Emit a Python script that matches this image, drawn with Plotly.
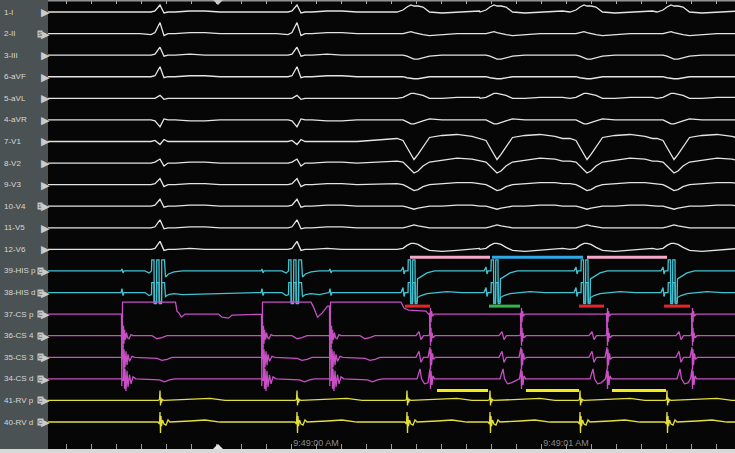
import plotly.graph_objects as go

# --- data: times are ms after 9:48:59, deflections in screen px (up = +) ---
T_START, T_END = -72, 2676

CHANNELS = ["1-I", "2-II", "3-III", "6-aVF", "5-aVL", "4-aVR", "7-V1", "8-V2", "9-V3",
            "10-V4", "11-V5", "12-V6", "39-HIS p", "38-HIS d", "37-CS p", "36-CS 4",
            "35-CS 3", "34-CS d", "41-RV p", "40-RV d"]
ICONS = {"2-II": "S", "10-V4": "1", "39-HIS p": "C", "38-HIS d": "C", "37-CS p": "C",
         "36-CS 4": "C", "35-CS 3": "C", "34-CS d": "C", "41-RV p": "C", "40-RV d": "C"}

V_NARROW = [376, 924]               # RV spikes, narrow beats
V_WIDE = [1364, 1696, 2056, 2404]   # RV spikes, wide beats
A_EARLY = [224, 784, 1056]          # CS activation, first half
A_LATE = [1456, 1820, 2164, 2504]   # CS activation, second half

TICK_MS = [0, 1000, 2000]
TICK_TEXT = ["9:48:59 AM", "9:49:00 AM", "9:49:01 AM"]
CURSOR_MS = 608

# surface ECG
NARROW_DT = [-80, -36, -20, 0, 16, 32, 60, 120, 180, 240]
I_N = [0, 0, 1, 7, -1, 0, 0, 1, 1, 0]
II_N = [0, -1, 1, 11, -2, 0, 0, 1, 1, 0]
III_N = [0, 0, 1, 8, -1, 0, 0, 1, 0, 0]
AVF_N = [0, 0, 1, 10, -1, 0, 0, 1, 1, 0]
AVL_N = [0, 0, 0, 3, -1, 0, 0, 0, 0, 0]
AVR_N = [0, 0, -1, -7, 1, 0, 0, -1, -1, 0]
V1_N = [0, 0, 1, -3, 2, 0, 0, 0, 0, 0]
V2_N = [0, 0, 1, 4, -3, 0, 0, 1, 1, 0]
V3_N = [0, 0, 1, 6, -2, 0, 0, 1, 1, 0]
V4_N = [0, 0, 1, 7, -1, 0, 0, 1, 1, 0]
V5_N = [0, 0, 1, 8, -1, 0, 0, 1, 1, 0]
V6_N = [0, 0, 1, 8, -1, 0, 0, 1, 0, 0]

WIDE_DT = [-40, -16, 0, 16, 28, 44, 64, 90, 140, 200, 260, 290]
I_W = [0, 2, 5, 7, 6, 6, 5, 0, -1, 0, 1, 1]
II_W = [0, 0, 1, 2, 1, 0, -1, -2, -1, 0, 0, 0]
III_W = [0, 0, -1, -3, -4, -4, -3, -1, 0, 0, 0, 0]
AVF_W = [0, 0, -1, -2, -2, -2, -1, 0, 0, 0, 0, 0]
AVL_W = [0, 1, 3, 5, 5, 4, 3, 0, 0, 1, 1, 1]
AVR_W = [0, 0, -2, -4, -4, -3, -1, 1, 0, 0, 0, 0]
V1_W = [3, 1, -6, -13, -18, -13, -5, 4, 6, 7, 5, 3]
V2_W = [2, 1, -3, -7, -10, -8, -3, 1, 3, 5, 4, 2]
V3_W = [1, 0, -2, -4, -6, -5, -2, 0, 1, 2, 2, 1]
V4_W = [0, 0, -1, -2, -3, -2, -1, 0, 0, 1, 1, 0]
V5_W = [0, 0, 1, 2, 3, 2, 1, 0, 0, 0, 0, 0]
V6_W = [0, 1, 4, 6, 6, 5, 2, -1, -2, -1, 0, 1]

# His bundle (clipped deflections)
HIS_N_DT = [-60, -44, -34, -33, -24, -23, -14, -13, -4, -3, 6, 7, 18, 22, 34, 56, 90]
HIS_P_N = [0, -2, 0, 11, 11, -31, -31, 11, 11, -31, -31, 11, 11, -6, -3, -1, 0]
HIS_D_N = [0, -3, -2, 10, 10, -11, -11, 10, 10, -11, -11, 10, 10, -4, -2, -1, -2]
HIS_W_DT = [-24, -16, -12, -8, 4, 5, 14, 15, 22, 23, 32, 33, 40, 42, 56, 80, 110, 160, 220]
HIS_P_W = [0, 4, -3, 0, 0, 11, 11, -31, -31, 11, 11, -31, -31, -8, -6, -2, 0, 0, 0]
HIS_D_W = [0, 5, -4, 0, 0, 10, 10, -11, -11, 10, 10, -11, -11, -5, -3, -1, 0, 1, 0]
HIS_A_DT = [-4, 0, 4, 8]
HIS_P_A = [0, 2, -2, 0]
HIS_D_A = [0, 4, -3, 0]

# coronary sinus
CS_P_T = [216, 222, 223, 226, 438, 444, 452, 462, 476, 610, 624, 650, 664, 776,
          782, 783, 786, 980, 990, 1006, 1024, 1046, 1054, 1055, 1058, 1340, 1352, 1370, 1440]
CS_P_Y = [0, 0, -72, 12, 12, 3, 1, -3, 0, 0, -3, -4, -1, 0,
          0, -72, 12, 12, 7, -3, 1, 8, 8, -72, 12, 12, 6, 4, 3]
CS_P_L_DT = [-6, -2, 0, 2, 4, 6, 10, 16]
CS_P_L = [0, 1, -22, 6, -8, 3, -2, 0]
CS_4_E_DT = [-4, 0, 2, 4, 6, 8, 10, 14, 18, 22, 28, 36, 44, 120, 140, 160, 180]
CS_4_E = [0, -2, 14, -12, 10, -8, 6, -4, 3, -2, -3, 1, 0, 0, -3, -2, 0]
CS_3_E_DT = [-2, 2, 4, 6, 8, 12, 16, 20, 24, 30, 40, 52, 140, 160, 180, 200]
CS_3_E = [0, -2, 12, -12, 8, -10, 6, -8, 3, -4, 1, 0, -1, -3, -2, 0]
CS_D_E_DT = [0, 4, 8, 10, 12, 16, 20, 24, 30, 36, 44, 56, 150, 170, 190, 210]
CS_D_E = [0, -2, 14, -10, 10, -12, 8, -8, 4, -5, 2, 0, -1, -3, -1, 0]
CS_4_L_DT = [-8, -2, 0, 2, 4, 6, 8, 12, 20]
CS_4_L = [0, 1, 12, -10, 8, -6, 3, -2, 0]
CS_3_L_DT = [-8, 0, 2, 4, 6, 10, 14, 22]
CS_3_L = [0, 10, -12, 8, -8, 4, -2, 0]
CS_D_L_DT = [-6, 0, 2, 4, 8, 12, 18]
CS_D_L = [0, 10, -10, 8, -6, 3, 0]
CS_V_DT = [36, 48, 56, 66]
CS_4_V = [0, 4, -4, 0]
CS_3_V = [0, 6, -5, 0]
CS_D_V_DT = [40, 52, 58, 70, 84]
CS_D_V = [0, 10, 0, -5, -4]

# right ventricle
RV_P_DT = [-8, -2, 0, 2, 4, 6, 10, 16, 120, 200, 260]
RV_P = [0, 1, 10, -5, 3, -2, 1, 0, 1, 2, 0]
RV_D_DT = [-8, -2, 0, 2, 4, 6, 10, 16, 24, 32, 40, 120, 180, 240]
RV_D = [0, -2, 10, -11, 6, -4, 2, -2, -3, 2, 0, 1, 2, 0]

# measurement calipers
HH_START = [1376, 1704, 2084]
HH_END = [1696, 2068, 2404]
HH_COLOR = ["#f5a8c8", "#2ea8e6", "#f5a8c8"]
VA_START = [1356, 1692, 2052, 2392]
VA_END = [1456, 1816, 2152, 2496]
VA_COLOR = ["#e4262b", "#36b44c", "#e4262b", "#e4262b"]
AV_START = [1484, 1840, 2184]
AV_END = [1688, 2052, 2400]

# --- build the traces ---
ecg_n = [I_N, II_N, III_N, AVF_N, AVL_N, AVR_N, V1_N, V2_N, V3_N, V4_N, V5_N, V6_N]
ecg_w = [I_W, II_W, III_W, AVF_W, AVL_W, AVR_W, V1_W, V2_W, V3_W, V4_W, V5_W, V6_W]
placements = {}
for name, n, w in zip(CHANNELS[:12], ecg_n, ecg_w):
    placements[name] = [(V_NARROW, NARROW_DT, n), (V_WIDE, WIDE_DT, w)]
placements["39-HIS p"] = [(V_NARROW, HIS_N_DT, HIS_P_N), (V_WIDE, HIS_W_DT, HIS_P_W),
                          (A_EARLY, HIS_A_DT, HIS_P_A)]
placements["38-HIS d"] = [(V_NARROW, HIS_N_DT, HIS_D_N), (V_WIDE, HIS_W_DT, HIS_D_W),
                          (A_EARLY, HIS_A_DT, HIS_D_A)]
placements["37-CS p"] = [([0], CS_P_T, CS_P_Y), (A_LATE, CS_P_L_DT, CS_P_L)]
placements["36-CS 4"] = [(A_EARLY, CS_4_E_DT, CS_4_E), (A_LATE, CS_4_L_DT, CS_4_L),
                         (V_WIDE, CS_V_DT, CS_4_V)]
placements["35-CS 3"] = [(A_EARLY, CS_3_E_DT, CS_3_E), (A_LATE, CS_3_L_DT, CS_3_L),
                         (V_WIDE, CS_V_DT, CS_3_V)]
placements["34-CS d"] = [(A_EARLY, CS_D_E_DT, CS_D_E), (A_LATE, CS_D_L_DT, CS_D_L),
                         (V_WIDE, CS_D_V_DT, CS_D_V)]
placements["41-RV p"] = [(V_NARROW + V_WIDE, RV_P_DT, RV_P)]
placements["40-RV d"] = [(V_NARROW + V_WIDE, RV_D_DT, RV_D)]


def build(parts):
    pts = [(T_START - 20, 0), (T_END + 400, 0)]
    for times, dts, dys in parts:
        for t0 in times:
            pts += [(t0 + dt, dy) for dt, dy in zip(dts, dys)]
    pts.sort(key=lambda p: p[0])
    return [p[0] for p in pts], [p[1] for p in pts]


def color_for(name):
    if "HIS" in name:
        return "#42c3d2"
    if "CS" in name:
        return "#c84fc4"
    if "RV" in name:
        return "#e2de3c"
    return "#e4e4e4"


W, H = 735, 453
LEFT = 48
ROW0, ROW_STEP = 12, 21.58
base = {name: ROW0 + ROW_STEP * i for i, name in enumerate(CHANNELS)}

fig = go.Figure()
for name in CHANNELS:
    xs, ys = build(placements[name])
    fig.add_trace(go.Scatter(x=xs, y=[v - base[name] for v in ys], mode="lines",
                             line=dict(color=color_for(name), width=1.3), hoverinfo="skip"))

# calipers
for s, e, c in zip(HH_START, HH_END, HH_COLOR):
    yb = -(base["39-HIS p"] - 13.7)
    fig.add_trace(go.Scatter(x=[s, e], y=[yb, yb], mode="lines", line=dict(color=c, width=3)))
for s, e, c in zip(VA_START, VA_END, VA_COLOR):
    yb = -(base["37-CS p"] - 8)
    fig.add_trace(go.Scatter(x=[s, e], y=[yb, yb], mode="lines", line=dict(color=c, width=3)))
for s, e in zip(AV_START, AV_END):
    yb = -(base["41-RV p"] - 10)
    fig.add_trace(go.Scatter(x=[s, e], y=[yb, yb], mode="lines", line=dict(color="#f2ec1e", width=3)))

# top ruler needs a trace on x2
fig.add_trace(go.Scatter(x=[T_START], y=[0], xaxis="x2", mode="markers",
                         marker=dict(opacity=0), hoverinfo="skip"))

# channel labels
for name in CHANNELS:
    yp = 1 - base[name] / H
    fig.add_annotation(x=2 / W, y=yp, xref="paper", yref="paper", text=name, showarrow=False,
                       xanchor="left", yanchor="middle", font=dict(size=8, color="#d6d8d8"))
    fig.add_annotation(x=45.5 / W, y=yp, xref="paper", yref="paper", text="▶", showarrow=False,
                       xanchor="center", yanchor="middle", font=dict(size=11, color="#c9cdce"))
    if name in ICONS:
        fig.add_annotation(x=40 / W, y=yp, xref="paper", yref="paper", text=ICONS[name],
                           showarrow=False, xanchor="center", yanchor="middle",
                           bgcolor="#c3c7c8", borderpad=0,
                           font=dict(size=6, color="#4b5254"))

fig.add_shape(type="rect", xref="paper", yref="paper", x0=0, x1=1, y0=0, y1=4 / H,
              fillcolor="#d8d8d8", line_width=0)
fig.add_shape(type="rect", xref="paper", yref="paper", x0=LEFT / W, x1=1, y0=1 - 1.5 / H, y1=1,
              fillcolor="#8f9395", line_width=0)

# cursor markers (half-hidden triangles at the top and bottom rulers)
c0, c1 = CURSOR_MS - 20, CURSOR_MS + 20
top_tip, bot_tip = 1 - 5 / H, 9 / H
fig.add_shape(type="path", xref="x", yref="paper", fillcolor="#c8c8c8", line_width=0,
              path=f"M {c0},1 L {c1},1 L {CURSOR_MS},{top_tip} Z")
fig.add_shape(type="path", xref="x", yref="paper", fillcolor="#e4e4e4", line_width=0,
              path=f"M {c0},{4 / H} L {c1},{4 / H} L {CURSOR_MS},{bot_tip} Z")

fig.update_layout(
    width=W, height=H, margin=dict(l=0, r=0, t=0, b=0),
    paper_bgcolor="#4b5254", plot_bgcolor="#060606", showlegend=False,
    font=dict(family="Liberation Sans, Arial, sans-serif"),
    xaxis=dict(domain=[LEFT / W, 1], range=[T_START, T_END], tickvals=TICK_MS, ticktext=TICK_TEXT,
               ticks="inside", ticklen=5, tickcolor="#9c9c9c", ticklabelposition="inside",
               ticklabelstandoff=-5,
               tickfont=dict(size=9, color="#8c8c8c"), showgrid=False, zeroline=False,
               minor=dict(dtick=100, tick0=0, ticks="inside", ticklen=5, tickcolor="#9c9c9c")),
    xaxis2=dict(overlaying="x", side="top", range=[T_START, T_END], ticks="inside", ticklen=4,
                tickcolor="#b0b0b0", dtick=100, tick0=0, showticklabels=False, showgrid=False,
                zeroline=False),
    yaxis=dict(domain=[4 / H, 1], range=[-(H - 4), 0], showticklabels=False, showgrid=False,
               zeroline=False, fixedrange=True),
)

fig.write_html("out.html", config={"displayModeBar": False},
               post_script="document.body.style.margin='0px';")
